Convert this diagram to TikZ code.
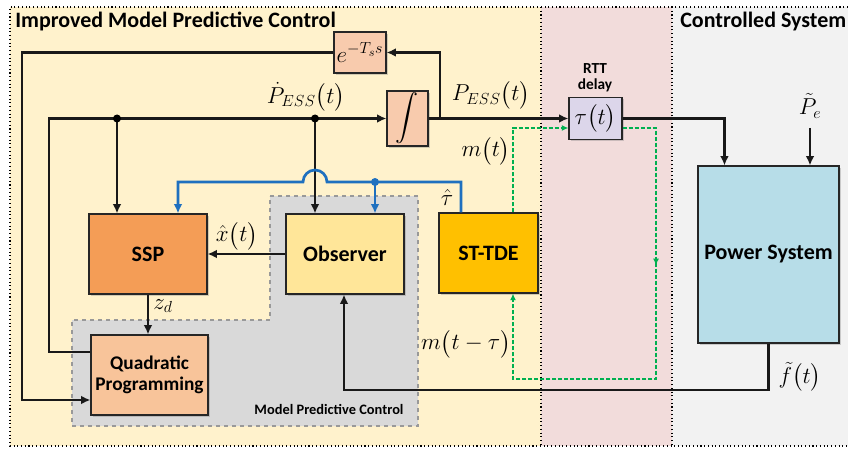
\documentclass[tikz,border=0pt]{standalone}
\usepackage{amsmath}
\usepackage{exscale}
\usepackage{fontspec}
\setsansfont{Carlito}
\usetikzlibrary{arrows.meta,shadows,decorations.markings}
\definecolor{bgyel}{HTML}{FFF2CC}
\definecolor{bgpink}{HTML}{F2DCDB}
\definecolor{bggray}{HTML}{F2F2F2}
\definecolor{mpcgray}{HTML}{D9D9D9}
\definecolor{salmon}{HTML}{F8CBAD}
\definecolor{sspor}{HTML}{F49D56}
\definecolor{obsyel}{HTML}{FFE699}
\definecolor{qpor}{HTML}{F8C49A}
\definecolor{tdeyel}{HTML}{FFC000}
\definecolor{pwrblue}{HTML}{B7DDE8}
\definecolor{taulav}{HTML}{DCD6EA}
\definecolor{bline}{HTML}{1F70BF}
\definecolor{gline}{HTML}{00B050}
\tikzset{
  blk/.style={draw=black!85,line width=0.8pt,inner sep=0pt,align=center,
    font=\sffamily\bfseries\fontsize{16.5}{18}\selectfont,
    drop shadow={opacity=0.35,shadow xshift=1.2pt,shadow yshift=-1.2pt}},
  sig/.style={line width=2pt,draw=black!90},
  arr/.style={sig,-{Latex[length=7pt,width=6.5pt]}},
  bsig/.style={line width=2pt,draw=bline},
  barr/.style={bsig,-{Latex[length=7pt,width=6.5pt]}},
  gsig/.style={line width=1.3pt,draw=gline,dash pattern=on 3pt off 1.5pt},
  garr/.style={gsig,-{Latex[length=5pt,width=4.5pt]}},
  lbl/.style={font=\fontsize{17}{19}\selectfont,inner sep=0pt},
  dotc/.style={circle,fill=black,inner sep=0pt,minimum size=6pt},
  bdot/.style={circle,fill=bline,inner sep=0pt,minimum size=6pt},
  sep/.style={line width=0.8pt,dotted},
}
\begin{document}
\begin{tikzpicture}[x=0.75pt,y=-0.75pt]
\useasboundingbox (0,0) rectangle (848,449);
% background regions
\fill[white] (0,0) rectangle (848,449);
\fill[bgyel] (10,7) rectangle (541,446);
\fill[bgpink] (541,7) rectangle (672,446);
\fill[bggray] (672,7) rectangle (848,446);
\draw[sep] (848,7) -- (10,7) -- (10,446) -- (848,446);
\draw[sep] (541,7) -- (541,446);
\draw[sep] (672,7) -- (672,446);
\node[anchor=west,font=\sffamily\bfseries\fontsize{16.5}{18}\selectfont,inner sep=0pt] (t1) at (15,21) {Improved Model Predictive Control};
\node[anchor=west,font=\sffamily\bfseries\fontsize{16.5}{18}\selectfont,inner sep=0pt] (t2) at (680,22) {Controlled System};
% MPC region
\filldraw[fill=mpcgray,draw=gray!80,line width=1pt,dashed] (270,196) -- (418,196) -- (418,426) -- (72,426) -- (72,320) -- (270,320) -- cycle;
\node[font=\sffamily\bfseries\fontsize{10.8}{12}\selectfont,inner sep=0pt] (mpcl) at (329,409) {Model Predictive Control};
% blocks
\node[blk,fill=salmon,minimum width=39pt,minimum height=30.75pt,font=\fontsize{18}{20}\selectfont] (eblk) at (360,52.5) {$e^{-T_s s}$};
\node[blk,fill=salmon,minimum width=30.75pt,minimum height=41.25pt,font=\fontsize{16}{18}\selectfont] (intg) at (407.5,118.5) {$\displaystyle\int$};
\node[blk,fill=taulav,minimum width=39.75pt,minimum height=31.5pt,font=\fontsize{17}{19}\selectfont] (tau) at (595.5,118.5) {$\tau\bigl(t\bigr)$};
\node[blk,fill=sspor,minimum width=88.5pt,minimum height=60pt] (SSP) at (148,254) {SSP};
\node[blk,fill=obsyel,minimum width=88.5pt,minimum height=60pt] (Obs) at (345,254) {Observer};
\node[blk,fill=qpor,minimum width=87.75pt,minimum height=60pt,font=\sffamily\bfseries\fontsize{14.5}{17}\selectfont] (QP) at (149.5,375) {Quadratic\\[-1pt]Programming};
\node[blk,fill=tdeyel,minimum width=74.25pt,minimum height=60pt] (TDE) at (488.5,253) {ST-TDE};
\node[blk,fill=pwrblue,minimum width=105.75pt,minimum height=132.75pt] (PS) at (768.5,254.5) {Power System};
\node[font=\sffamily\bfseries\fontsize{11.5}{13}\selectfont,align=center,inner sep=0pt] (rtt) at (595,77.5) {RTT\\[-1pt]delay};
% coordinates
\coordinate (br) at (440,118.5);
\coordinate (pl) at (49,118.5);
\coordinate (d1) at (117,118.5);
\coordinate (d2) at (315,118.5);
\coordinate (fb) at (344,390);
\coordinate (pe) at (810,128);
\coordinate (bt) at (461,182);
\coordinate (bl) at (178,182);
\coordinate (bd) at (375,182);
\coordinate (g1) at (656,379);
% black signals
\draw[arr] (intg.east) -- (tau.west);
\draw[arr] (br) |- (eblk.east);
\draw[arr] (eblk.west) -| (22,400) -- ([yshift=-18.75pt]QP.west);
\draw[arr] ([yshift=17.25pt]QP.west) -| (pl) -- (intg.west);
\draw[arr] (d1) -- (d1 |- SSP.north);
\draw[arr] (d2) -- (d2 |- Obs.north);
\node[dotc] (n1) at (d1) {};
\node[dotc] (n2) at (d2) {};
\draw[arr] (Obs.west) -- (SSP.east);
\draw[arr] (SSP.south) -- (SSP.south |- QP.north);
\draw[arr] (tau.east) -| ([xshift=20.25pt]PS.north west);
\draw[arr] (pe) -- (pe |- PS.north);
\draw[arr] (PS.south) |- (fb) -- (fb |- Obs.south);
% blue signals
\draw[barr] ([xshift=-20.625pt]TDE.north) -- (bt) -- (327,182) arc[start angle=0,end angle=-180,radius=12] -- (bl) -- (bl |- SSP.north);
\draw[barr] (bd) -- (bd |- Obs.north);
\node[bdot] (n3) at (bd) {};
% green dashed
\draw[garr] ([xshift=18.375pt]TDE.north) |- ([yshift=-7.125pt]tau.west);
\draw[garr,postaction={decorate},decoration={markings,mark=at position 0.333 with {\arrow{Latex[length=5pt,width=4.5pt]}}}] ([yshift=-7.125pt]tau.east) -| (g1) -| ([xshift=18.375pt]TDE.south);
% labels
\node[lbl] (l1) at (306,97) {$\dot{P}_{ESS}\bigl(t\bigr)$};
\node[lbl] (l2) at (491,95) {$P_{ESS}\bigl(t\bigr)$};
\node[lbl] (l3) at (486,151) {$m\bigl(t\bigr)$};
\node[lbl] (l4) at (447,197) {$\hat{\tau}$};
\node[lbl] (l5) at (237,236) {$\hat{x}\bigl(t\bigr)$};
\node[lbl] (l6) at (163,306) {$z_d$};
\node[lbl] (l7) at (466,344) {$m\bigl(t-\tau\bigr)$};
\node[lbl] (l8) at (800,377) {$\tilde{f}\bigl(t\bigr)$};
\node[lbl] (l9) at (810,106) {$\tilde{P}_e$};
\end{tikzpicture}
\end{document}
